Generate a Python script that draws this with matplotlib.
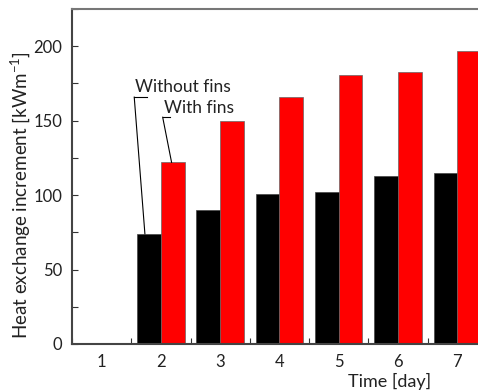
import matplotlib
matplotlib.use("Agg")
import matplotlib.pyplot as plt
from matplotlib.ticker import MultipleLocator

plt.rcParams['font.family'] = ['Lato', 'DejaVu Sans']
plt.rcParams['mathtext.fontset'] = 'custom'
plt.rcParams['mathtext.rm'] = 'Lato'
plt.rcParams['mathtext.it'] = 'Lato:italic'
plt.rcParams['mathtext.bf'] = 'Lato:bold'

days = [1, 2, 3, 4, 5, 6, 7]
without_fins = [0, 74, 90, 101, 102, 113, 115]
with_fins = [0, 122, 150, 166, 181, 183, 197]
tick_labels = ['1', '2', '3', '4', '5', '6', '7']

fig = plt.figure(figsize=(4.78, 3.92), dpi=100)
ax = fig.add_axes([72/478, 1-344/392, 1-72/478, (344-9)/392])

w = 0.4
ax.bar([d - w/2 for d in days], without_fins, width=w, color='black',
       edgecolor='#444444', linewidth=0.5)
ax.bar([d + w/2 for d in days], with_fins, width=w, color='#ff0000',
       edgecolor='#666666', linewidth=0.5)

ax.set_xlim(0.5, 7.35)
ax.set_ylim(0, 225)
ax.set_xticks(days)
ax.set_xticklabels(tick_labels)
ax.xaxis.set_minor_locator(MultipleLocator(0.5))
ax.yaxis.set_major_locator(MultipleLocator(50))
ax.yaxis.set_minor_locator(MultipleLocator(25))
ax.tick_params(which='both', direction='in', labelsize=12, colors='#333333',
               top=False, right=False)
ax.tick_params(which='major', length=4, width=0.8, pad=7)
ax.tick_params(which='minor', length=4, width=0.8)
ax.tick_params(axis='x', which='major', length=0)
for lab in ax.get_xticklabels() + ax.get_yticklabels():
    lab.set_color('#222222')

ax.spines['left'].set_color('#444444')
ax.spines['left'].set_linewidth(1.5)
ax.spines['bottom'].set_color('#444444')
ax.spines['bottom'].set_linewidth(1.5)
ax.spines['top'].set_color('#777777')
ax.spines['top'].set_linewidth(1.5)
ax.spines['right'].set_visible(False)

# annotations with leader lines
ax.plot([1.54, 1.76], [165.8, 165.8], color='black', lw=0.8)
ax.plot([1.55, 1.73], [165.8, 74], color='black', lw=0.8)
ax.text(1.57, 172.5, 'Without fins', fontsize=12.5, va='center', ha='left', color='#222222')
ax.plot([2.03, 2.16], [152.3, 152.3], color='black', lw=0.8)
ax.plot([2.03, 2.18], [152.3, 122], color='black', lw=0.8)
ax.text(2.05, 158.4, 'With fins', fontsize=12.5, va='center', ha='left', color='#222222')

fig.text(390/478, 1-381/392, 'Time [day]', fontsize=13, ha='center', va='center',
         color='#222222')
fig.text(20/478, 1-195/392, 'Heat exchange increment [kWm$^{-1}$]', fontsize=13.5,
         ha='center', va='center', rotation=90, color='#222222')

fig.savefig('out.png', dpi=100)
